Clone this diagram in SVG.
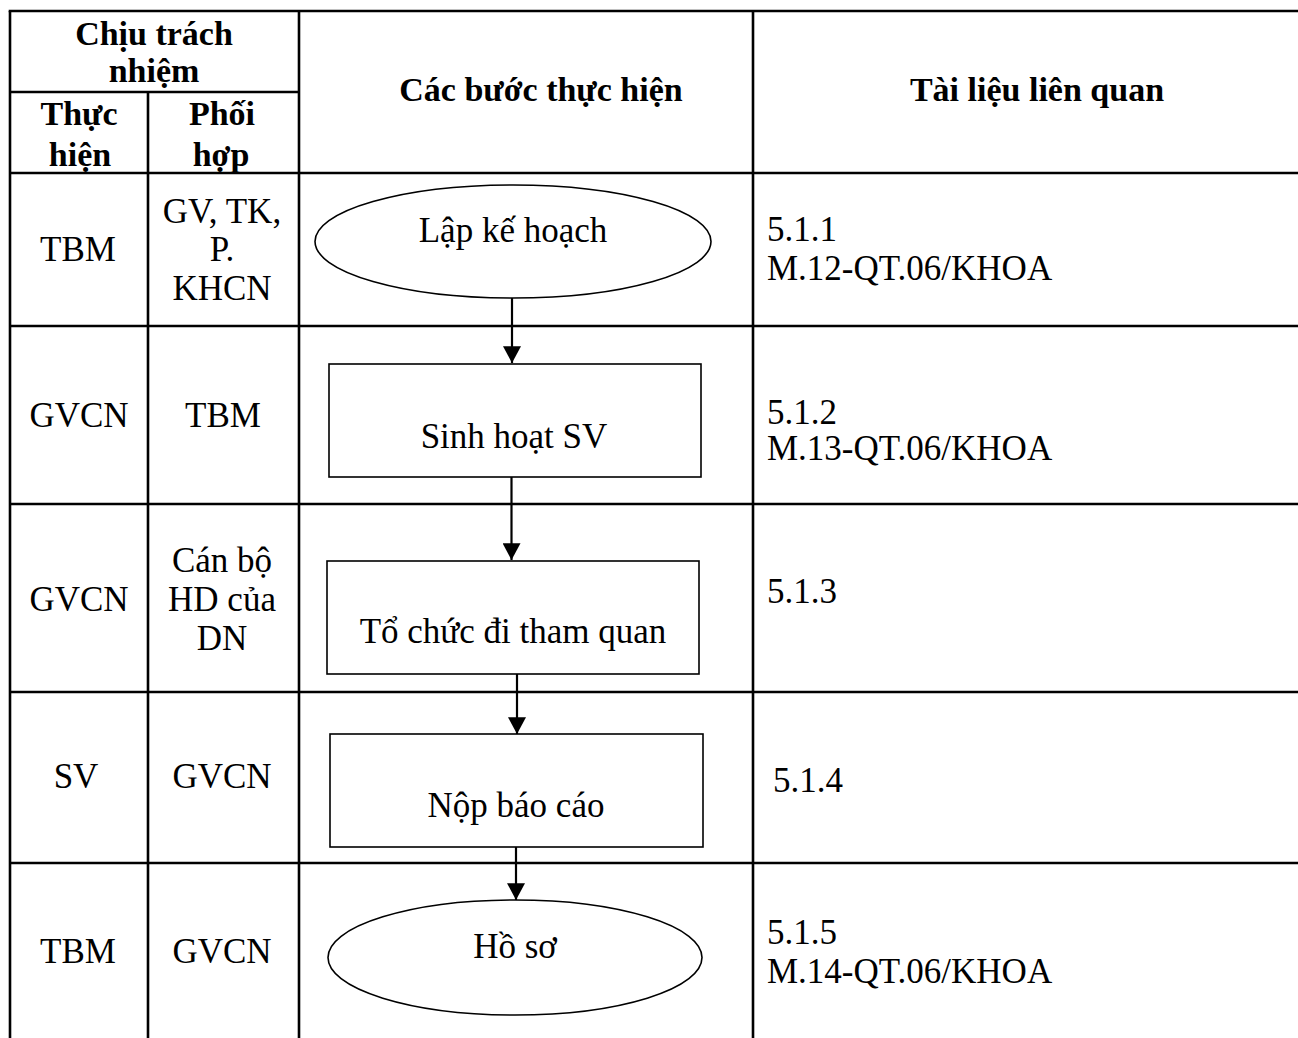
<svg xmlns="http://www.w3.org/2000/svg" width="1298" height="1038" viewBox="0 0 1298 1038">
<style>
.grid{stroke:#000;stroke-width:2.6;fill:none}
.shape{stroke:#000;stroke-width:1.6;fill:#fff}
.conn{stroke:#000;stroke-width:2.2;fill:none}
text{font-family:"Liberation Serif","Times New Roman",serif;font-size:35px;fill:#000}
.b{font-weight:bold;font-size:34px}
.m{text-anchor:middle}
</style>
<defs>
<marker id="arr" markerUnits="userSpaceOnUse" markerWidth="18" markerHeight="18" refX="15" refY="8" orient="auto" viewBox="0 0 16 16">
<path d="M0,0 L15,8 L0,16 z" fill="#000"/>
</marker>
</defs>
<rect width="1298" height="1038" fill="#fff"/>
<g id="table">
<line class="grid" x1="8.7" y1="11" x2="1298" y2="11"/>
<line class="grid" x1="10" y1="92" x2="299" y2="92"/>
<line class="grid" x1="10" y1="173" x2="1298" y2="173"/>
<line class="grid" x1="10" y1="326" x2="1298" y2="326"/>
<line class="grid" x1="10" y1="504" x2="1298" y2="504"/>
<line class="grid" x1="10" y1="692" x2="1298" y2="692"/>
<line class="grid" x1="10" y1="863" x2="1298" y2="863"/>
<line class="grid" x1="10" y1="11" x2="10" y2="1038"/>
<line class="grid" x1="148" y1="92" x2="148" y2="1038"/>
<line class="grid" x1="299" y1="11" x2="299" y2="1038"/>
<line class="grid" x1="753" y1="11" x2="753" y2="1038"/>
</g>
<g id="header">
<text class="b m" x="154" y="45">Chịu trách</text>
<text class="b m" x="154" y="82">nhiệm</text>
<text class="b m" x="79" y="125">Thực</text>
<text class="b m" x="80" y="166">hiện</text>
<text class="b m" x="222" y="125">Phối</text>
<text class="b m" x="221" y="166">hợp</text>
<text class="b m" x="541" y="101">Các bước thực hiện</text>
<text class="b m" x="1037" y="101">Tài liệu liên quan</text>
</g>
<g id="row1">
<text class="m" x="78" y="261">TBM</text>
<text class="m" x="222" y="223">GV, TK,</text>
<text class="m" x="222" y="261">P.</text>
<text class="m" x="222" y="300">KHCN</text>
<text x="767" y="241">5.1.1</text>
<text x="767" y="280">M.12-QT.06/KHOA</text>
</g>
<g id="row2">
<text class="m" x="79" y="427">GVCN</text>
<text class="m" x="223" y="427">TBM</text>
<text x="767" y="424">5.1.2</text>
<text x="767" y="460">M.13-QT.06/KHOA</text>
</g>
<g id="row3">
<text class="m" x="79" y="611">GVCN</text>
<text class="m" x="222" y="572">Cán bộ</text>
<text class="m" x="222" y="611">HD của</text>
<text class="m" x="222" y="650">DN</text>
<text x="767" y="603">5.1.3</text>
</g>
<g id="row4">
<text class="m" x="76" y="788">SV</text>
<text class="m" x="222" y="788">GVCN</text>
<text x="773" y="792">5.1.4</text>
</g>
<g id="row5">
<text class="m" x="78" y="963">TBM</text>
<text class="m" x="222" y="963">GVCN</text>
<text x="767" y="944">5.1.5</text>
<text x="767" y="983">M.14-QT.06/KHOA</text>
</g>
<g id="connectors">
<line class="conn" x1="512" y1="298" x2="512" y2="363" marker-end="url(#arr)"/>
<line class="conn" x1="511.5" y1="477" x2="511.5" y2="560" marker-end="url(#arr)"/>
<line class="conn" x1="517" y1="674" x2="517" y2="734" marker-end="url(#arr)"/>
<line class="conn" x1="516" y1="847" x2="516" y2="900" marker-end="url(#arr)"/>
</g>
<g id="n1">
<ellipse class="shape" cx="513" cy="241.5" rx="198" ry="56.5"/>
<text class="m" x="513" y="242">Lập kế hoạch</text>
</g>
<g id="n2">
<rect class="shape" x="329" y="364" width="372" height="113"/>
<text class="m" x="514" y="448">Sinh hoạt SV</text>
</g>
<g id="n3">
<rect class="shape" x="327" y="561" width="372" height="113"/>
<text class="m" x="513" y="643">Tổ chức đi tham quan</text>
</g>
<g id="n4">
<rect class="shape" x="330" y="734" width="373" height="113"/>
<text class="m" x="516" y="817">Nộp báo cáo</text>
</g>
<g id="n5">
<ellipse class="shape" cx="515" cy="957.5" rx="187" ry="57.5"/>
<text class="m" x="515" y="958">Hồ sơ</text>
</g>
</svg>
